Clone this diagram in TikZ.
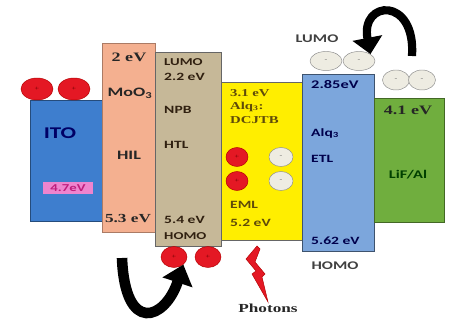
\documentclass[tikz,border=0pt]{standalone}
\usepackage{fontspec}
\setmainfont[FakeStretch=1.4]{Liberation Serif}
\setsansfont[FakeStretch=1.4]{Carlito}
\usepackage{xcolor}
\usepackage{tikz}
\usetikzlibrary{arrows.meta, shapes.geometric}

\definecolor{itoblue}{RGB}{62,126,206}
\definecolor{hilpeach}{RGB}{244,176,144}
\definecolor{htltan}{RGB}{198,184,152}
\definecolor{emlyellow}{RGB}{255,238,0}
\definecolor{etlblue}{RGB}{124,166,220}
\definecolor{lifgreen}{RGB}{112,174,62}
\definecolor{holered}{RGB}{228,24,36}
\definecolor{elecgrey}{RGB}{238,236,226}
\definecolor{pinkbg}{RGB}{238,132,206}
\definecolor{pinktxt}{RGB}{190,30,125}
\definecolor{emltxt}{RGB}{95,75,10}

\tikzset{
  layer/.style={line width=0.6pt},
  sans/.style={font=\sffamily\bfseries\fontsize{#1}{#1}\selectfont, inner sep=0pt},
  serif/.style={font=\rmfamily\bfseries\fontsize{#1}{#1}\selectfont, inner sep=0pt},
  hole/.style={ellipse, draw=red!70!black, fill=holered, inner sep=0pt,
    font=\tiny, text=red!40!black},
  elec/.style={ellipse, draw=black!45, fill=elecgrey, inner sep=0pt,
    font=\tiny, text=black!60},
  bigarrow/.style={line cap=butt}
}

\begin{document}
\begin{tikzpicture}[x=0.3mm, y=-0.3mm]
  \useasboundingbox (0,0) rectangle (460,320);

  % energy levels of the layers
  \draw[layer, draw=itoblue!60!black, fill=itoblue] (30,100) rectangle (102,221);
  \draw[layer, draw=hilpeach!70!black, fill=hilpeach] (102,43) rectangle (155,232);
  \draw[layer, draw=black!60, fill=htltan] (155,52) rectangle (221,246);
  \draw[layer, draw=black!60, fill=emlyellow] (221,82) rectangle (302,240);
  \draw[layer, draw=etlblue!50!black, fill=etlblue] (302,74) rectangle (374,251);
  \draw[layer, draw=lifgreen!60!black, fill=lifgreen] (374,98) rectangle (444,222);

  % ITO
  \node[sans=14, text=blue!40!black] (ito) at (60,133) {ITO};
  \node[sans=9, text=pinktxt, fill=pinkbg, minimum width=15mm, minimum height=3.4mm] (itowf) at (68,188) {4.7eV};

  % HIL
  \node[serif=11, text=black!85] (hillumo) at (129,57) {2 eV};
  \node[sans=11, text=black!85] (moo) at (130,93) {MoO\textsubscript{3}};
  \node[sans=11, text=black!85] (hil) at (129,155) {HIL};
  \node[serif=10.5, text=black!85] (hilhomo) at (128,219) {5.3 eV};

  % HTL
  \begin{scope}[every node/.append style={anchor=west, text=black!75!brown}]
    \node[sans=9] (htllumotxt) at (164,62) {LUMO};
    \node[sans=9.5] (htllumo) at (164,77) {2.2 eV};
    \node[sans=9.5] (npb) at (164,110) {NPB};
    \node[sans=9.5] (htl) at (164,145) {HTL};
    \node[sans=9.5] (htlhomo) at (164,220) {5.4 eV};
    \node[sans=9] (htlhomotxt) at (164,236) {HOMO};
  \end{scope}

  % EML
  \begin{scope}[every node/.append style={anchor=west, text=emltxt}]
    \node[serif=9] (emllumo) at (230,93) {3.1 eV};
    \node[serif=9] (alqa) at (230,107) {Alq\textsubscript{3}:};
    \node[serif=9] (dcjtb) at (230,120) {DCJTB};
    \node[sans=9.5] (eml) at (230,205) {EML};
    \node[sans=9.5] (emlhomo) at (230,223) {5.2 eV};
  \end{scope}

  % ETL
  \begin{scope}[every node/.append style={anchor=west, text=blue!30!black}]
    \node[sans=10] (etllumo) at (311,85) {2.85eV};
    \node[sans=9.5] (alqb) at (311,133) {Alq\textsubscript{3}};
    \node[sans=9.5] (etl) at (311,159) {ETL};
    \node[sans=9.5] (etlhomo) at (311,241) {5.62 eV};
  \end{scope}
  \node[sans=10, text=black!75] (lumo) at (317,39) {LUMO};
  \node[sans=10, text=black!75] (homo) at (335,266) {HOMO};

  % cathode
  \node[serif=11, text=black!85] (lifwf) at (408,110) {4.1 eV};
  \node[sans=10, text=green!25!black] (lif) at (408,175) {LiF/Al};

  % holes and electrons
  \foreach \n/\x/\y in {1/37/89, 2/74/89}
    \node[hole, minimum width=9.6mm, minimum height=6.6mm] (hA\n) at (\x,\y) {+};
  \foreach \n/\x/\y in {1/174/257, 2/208/257}
    \node[hole, minimum width=7.8mm, minimum height=6.3mm] (hB\n) at (\x,\y) {+};
  \foreach \n/\y in {1/157, 2/181}
    \node[hole, minimum width=6.6mm, minimum height=5.7mm] (hE\n) at (237,\y) {+};
  \foreach \n/\y in {1/157, 2/181}
    \node[elec, minimum width=7.2mm, minimum height=5.7mm] (eE\n) at (281,\y) {-};
  \foreach \n/\x in {1/326, 2/359}
    \node[elec, minimum width=9.6mm, minimum height=5.7mm] (eT\n) at (\x,61) {-};
  \foreach \n/\x in {1/396, 2/422}
    \node[elec, minimum width=8.1mm, minimum height=6mm] (eL\n) at (\x,80) {-};

  % injection arrows
  \coordinate (arcR) at (412,56);
  \coordinate (arcL) at (122,258);
  \draw[bigarrow, line width=7pt, -{Triangle[width=25pt,length=14pt]}]
    (arcR) .. controls (416,-4) and (360,0) .. (eT2.north east);
  \draw[bigarrow, line width=9pt, -{Triangle[width=26pt,length=16pt]}]
    (arcL) .. controls (125,335) and (165,320) .. (hB1.south east);

  % emission
  \draw[fill=holered, draw=red!70!black] (257,246) -- (246,259) -- (256,271) -- (252,274)
    -- (268,302) -- (262,277) -- (265,274) -- (255,262) -- (260,249) -- cycle;
  \node[serif=10.5, text=black!85] (photons) at (268,308) {Photons};
\end{tikzpicture}
\end{document}
